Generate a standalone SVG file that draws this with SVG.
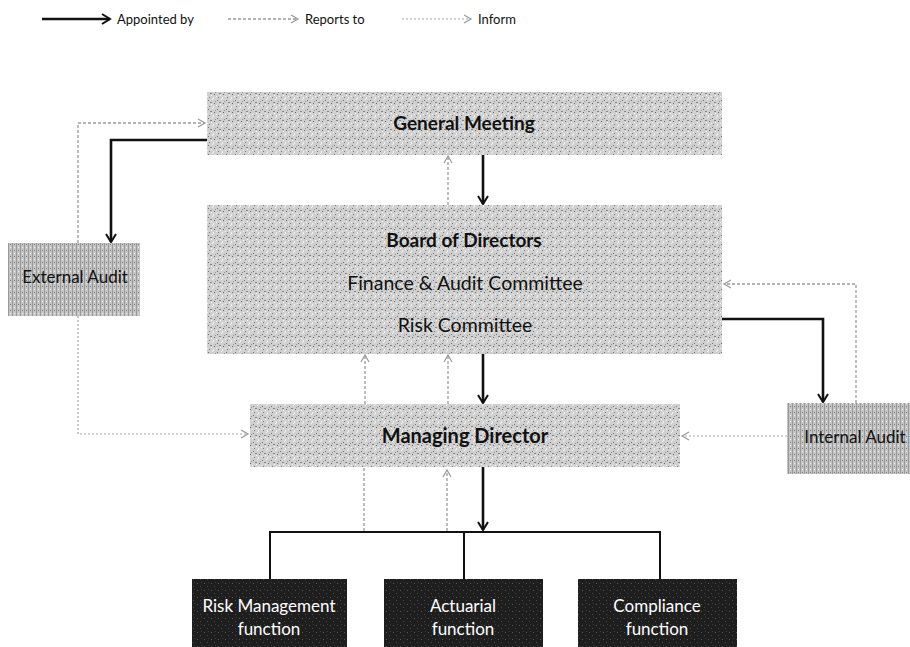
<svg xmlns="http://www.w3.org/2000/svg" width="910" height="647" viewBox="0 0 910 647">
<style>
text{font-family:Lato,"Open Sans","Liberation Sans",sans-serif;fill:#111;}
.lg{font-size:13px;}
.b{font-weight:bold;}
.w{fill:#fff;font-size:17px;}
.app{fill:none;stroke:#111;stroke-width:2.6;}
.bus{fill:none;stroke:#111;stroke-width:2;}
.rep{fill:none;stroke:#9a9a9a;stroke-width:1.3;stroke-dasharray:3 2;}
.inf{fill:none;stroke:#a8a8a8;stroke-width:1.2;stroke-dasharray:2 2;}
</style>
<defs>
<pattern id="tex" width="9" height="9" patternUnits="userSpaceOnUse">
<rect width="9" height="9" fill="#d0d0d0"/>
<rect x="1" y="1" width="1" height="1" fill="#707070"/>
<rect x="5" y="0" width="1" height="1" fill="#f4f4f4"/>
<rect x="3" y="3" width="2" height="1" fill="#858585"/>
<rect x="7" y="4" width="1" height="1" fill="#666"/>
<rect x="0" y="6" width="1" height="1" fill="#f7f7f7"/>
<rect x="2" y="7" width="1" height="1" fill="#7a7a7a"/>
<rect x="6" y="7" width="1" height="2" fill="#f2f2f2"/>
<rect x="8" y="2" width="1" height="1" fill="#949494"/>
<rect x="4" y="5" width="1" height="1" fill="#fbfbfb"/>
</pattern>
<pattern id="tex2" width="4" height="6" patternUnits="userSpaceOnUse">
<rect width="4" height="6" fill="#c4c4c4"/>
<rect x="0" y="0" width="1" height="6" fill="#999"/>
<rect x="2" y="1" width="1" height="1" fill="#eeeeee"/>
<rect x="2" y="4" width="1" height="1" fill="#7c7c7c"/>
</pattern>
<pattern id="tex3" width="7" height="7" patternUnits="userSpaceOnUse">
<rect width="7" height="7" fill="#1e1e1e"/>
<rect x="1" y="2" width="1" height="1" fill="#5a5a5a"/>
<rect x="4" y="5" width="1" height="1" fill="#4a4a4a"/>
<rect x="5" y="1" width="1" height="1" fill="#3c3c3c"/>
</pattern>
<marker id="ma" markerWidth="12" markerHeight="12" refX="10" refY="6" orient="auto" markerUnits="userSpaceOnUse">
<path d="M2,1 L10,6 L2,11" fill="none" stroke="#111" stroke-width="2"/>
</marker>
<marker id="mr" markerWidth="12" markerHeight="12" refX="10" refY="6" orient="auto" markerUnits="userSpaceOnUse">
<path d="M3,2 L10,6 L3,10" fill="none" stroke="#999" stroke-width="1.2"/>
</marker>
</defs>

<g id="legend">
<line class="app" x1="42" y1="19" x2="110" y2="19" marker-end="url(#ma)"/>
<text class="lg" x="117" y="24">Appointed by</text>
<line class="rep" x1="228" y1="19" x2="298" y2="19" marker-end="url(#mr)"/>
<text class="lg" x="305" y="24">Reports to</text>
<line class="inf" x1="402" y1="19" x2="471" y2="19" marker-end="url(#mr)"/>
<text class="lg" x="478" y="24">Inform</text>
</g>

<g id="connectors">
<polyline class="app" points="207,140 111,140 111,242" marker-end="url(#ma)"/>
<line class="app" x1="483" y1="155" x2="483" y2="204" marker-end="url(#ma)"/>
<line class="app" x1="483" y1="354" x2="483" y2="403" marker-end="url(#ma)"/>
<polyline class="app" points="722,319 823,319 823,402" marker-end="url(#ma)"/>
<line class="app" x1="483" y1="467" x2="483" y2="530" marker-end="url(#ma)"/>
<polyline class="bus" points="270,579 270,532 660,532 660,579"/>
<line class="bus" x1="464" y1="532" x2="464" y2="579"/>
<polyline class="rep" points="78,243 78,123 205,123" marker-end="url(#mr)"/>
<line class="rep" x1="448" y1="205" x2="448" y2="156" marker-end="url(#mr)"/>
<line class="rep" x1="365" y1="404" x2="365" y2="355" marker-end="url(#mr)"/>
<line class="rep" x1="448" y1="404" x2="448" y2="355" marker-end="url(#mr)"/>
<line class="rep" x1="364" y1="531" x2="364" y2="467"/>
<line class="rep" x1="447" y1="531" x2="447" y2="470" marker-end="url(#mr)"/>
<polyline class="rep" points="856,403 856,284 724,284" marker-end="url(#mr)"/>
<line class="inf" x1="787" y1="436" x2="682" y2="436" marker-end="url(#mr)"/>
<polyline class="inf" points="78,316 78,434 248,434" marker-end="url(#mr)"/>
</g>

<g id="general-meeting">
<rect x="207" y="92" width="515" height="63" fill="url(#tex)"/>
<text class="b" x="464" y="130" font-size="19" text-anchor="middle">General Meeting</text>
</g>

<g id="board">
<rect x="207" y="205" width="515" height="149" fill="url(#tex)"/>
<text class="b" x="464" y="247" font-size="19" text-anchor="middle">Board of Directors</text>
<text x="465" y="290" font-size="19.5" text-anchor="middle">Finance &amp; Audit Committee</text>
<text x="465" y="332" font-size="19.5" text-anchor="middle">Risk Committee</text>
</g>

<g id="external-audit">
<rect x="8" y="243" width="132" height="73" fill="url(#tex2)"/>
<text x="75" y="283" font-size="17" text-anchor="middle">External Audit</text>
</g>

<g id="managing-director">
<rect x="250" y="404" width="430" height="63" fill="url(#tex)"/>
<text class="b" x="465" y="443" font-size="20" text-anchor="middle">Managing Director</text>
</g>

<g id="internal-audit">
<rect x="787" y="403" width="123" height="71" fill="url(#tex2)"/>
<text x="855" y="443" font-size="17" text-anchor="middle">Internal Audit</text>
</g>

<g id="risk-management">
<rect x="192" y="579" width="155" height="68" fill="url(#tex3)"/>
<text class="w" x="269" y="612" text-anchor="middle">Risk Management</text>
<text class="w" x="269" y="635" text-anchor="middle">function</text>
</g>

<g id="actuarial">
<rect x="384" y="579" width="159" height="68" fill="url(#tex3)"/>
<text class="w" x="463" y="612" text-anchor="middle">Actuarial</text>
<text class="w" x="463" y="635" text-anchor="middle">function</text>
</g>

<g id="compliance">
<rect x="578" y="579" width="159" height="68" fill="url(#tex3)"/>
<text class="w" x="657" y="612" text-anchor="middle">Compliance</text>
<text class="w" x="657" y="635" text-anchor="middle">function</text>
</g>
</svg>
